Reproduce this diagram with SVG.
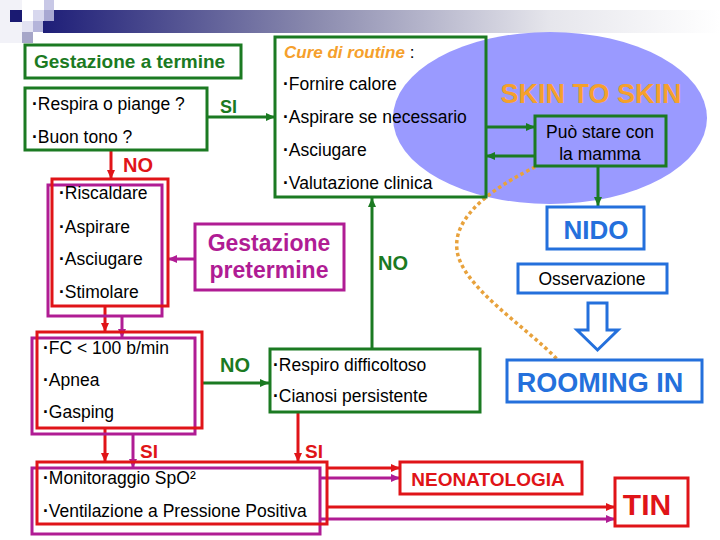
<svg xmlns="http://www.w3.org/2000/svg" width="720" height="540" viewBox="0 0 720 540">
<defs>
<linearGradient id="bar" x1="0" y1="0" x2="1" y2="0">
<stop offset="0" stop-color="#1e1e78"/>
<stop offset="0.4" stop-color="#8a8aae"/>
<stop offset="0.75" stop-color="#e6e6ec"/>
<stop offset="1" stop-color="#ffffff"/>
</linearGradient>
<marker id="ag" markerWidth="9" markerHeight="8" refX="9" refY="4" orient="auto" markerUnits="userSpaceOnUse"><path d="M0,0 L9,4 L0,8 Z" fill="#1b7a22"/></marker>
<marker id="ar" markerWidth="9" markerHeight="8" refX="9" refY="4" orient="auto" markerUnits="userSpaceOnUse"><path d="M0,0 L9,4 L0,8 Z" fill="#e01418"/></marker>
<marker id="ap" markerWidth="9" markerHeight="8" refX="9" refY="4" orient="auto" markerUnits="userSpaceOnUse"><path d="M0,0 L9,4 L0,8 Z" fill="#b01c94"/></marker>
</defs>
<style>
text{font-family:"Liberation Sans",Arial,sans-serif;}
.t{font-size:17.5px;fill:#000;}
.d{font-weight:bold;}
.bg{fill:none;stroke:#1b7a22;stroke-width:3;}
.br{fill:none;stroke:#e01418;stroke-width:3;}
.bp{fill:none;stroke:#b01c94;stroke-width:3;}
.bb{fill:#fff;stroke:#2470dc;stroke-width:3;}
.lg{stroke:#1b7a22;stroke-width:3;fill:none;marker-end:url(#ag);}
.lr{stroke:#e01418;stroke-width:3;fill:none;marker-end:url(#ar);}
.lp{stroke:#b01c94;stroke-width:3;fill:none;marker-end:url(#ap);}
.kg{font-weight:bold;fill:#1b7a22;}
.kr{font-weight:bold;fill:#e01418;}
.kp{font-weight:bold;fill:#b01c94;}
.kb{font-weight:bold;fill:#2470dc;}
</style>
<rect width="720" height="540" fill="#fff"/>
<g id="header">
<rect x="0" y="0" width="22" height="43" fill="#f2f2f8"/>
<rect x="43" y="10" width="677" height="23" fill="url(#bar)"/>
<rect x="44" y="0" width="10" height="10" fill="#c8c8e6"/>
<rect x="33" y="10" width="11" height="11" fill="#d8d8ee"/>
<rect x="44" y="10" width="10" height="11" fill="#a8a8d2"/>
<rect x="10" y="10" width="12" height="12" fill="#1a1a72"/>
<rect x="22" y="21" width="11" height="11" fill="#e2e2f2"/>
<rect x="33" y="21" width="10" height="11" fill="#b4b4da"/>
<rect x="22" y="32" width="11" height="11" fill="#a6a6c8"/>
</g>
<g id="skin">
<ellipse cx="550" cy="118" rx="157" ry="86" fill="#9a9aff"/>
<text x="591" y="103" text-anchor="middle" font-size="27" font-weight="bold" fill="#f5a02c">SKIN TO SKIN</text>
</g>
<g id="connectors">
<line class="lg" x1="207" y1="117" x2="275" y2="117"/>
<line class="lg" x1="486" y1="127" x2="535" y2="127"/>
<line class="lg" x1="535" y1="156" x2="486" y2="156"/>
<line class="lg" x1="598" y1="166" x2="598" y2="206"/>
<line class="lg" x1="372" y1="349" x2="372" y2="198"/>
<line class="lr" x1="111" y1="150" x2="111" y2="179"/>
<line class="lp" x1="195" y1="259" x2="168" y2="259"/>
<line class="lr" x1="105" y1="306" x2="105" y2="332"/>
<line class="lp" x1="122" y1="316" x2="122" y2="338"/>
<line class="lg" x1="202" y1="383" x2="269" y2="383"/>
<line class="lr" x1="105" y1="428" x2="105" y2="462"/>
<line class="lp" x1="133" y1="434" x2="133" y2="468"/>
<line class="lr" x1="298" y1="412" x2="298" y2="462"/>
<line class="lr" x1="327" y1="468" x2="400" y2="468"/>
<line class="lp" x1="320" y1="478" x2="400" y2="478"/>
<line class="lr" x1="327" y1="507" x2="615" y2="507"/>
<line class="lp" x1="320" y1="519" x2="615" y2="519"/>
<path d="M535 167 C505 182,452 212,457 250 C461 286,525 326,558 360" fill="none" stroke="#e8a23c" stroke-width="3.5" stroke-dasharray="3.5 3"/>
<polygon points="588,303 607,303 607,330 618,330 597.5,350 577,330 588,330" fill="#fff" stroke="#2470dc" stroke-width="3"/>
<text x="220" y="113" font-size="18" class="kg">SI</text>
<text x="123" y="172" font-size="20" class="kr">NO</text>
<text x="378" y="270" font-size="20" class="kg">NO</text>
<text x="220" y="372" font-size="20" class="kg">NO</text>
<text x="140" y="458" font-size="19" class="kr">SI</text>
<text x="305" y="458" font-size="19" class="kr">SI</text>
</g>
<g id="termine">
<rect class="bg" x="25" y="45" width="216" height="33"/>
<text x="34" y="68" font-size="19" class="kg">Gestazione a termine</text>
</g>
<g id="respira">
<rect class="bg" x="25" y="88" width="182" height="62"/>
<text class="t" x="32" y="110"><tspan class="d">·</tspan>Respira o piange ?</text>
<text class="t" x="32" y="143"><tspan class="d">·</tspan>Buon tono ?</text>
</g>
<g id="cure">
<rect class="bg" x="275" y="37" width="211" height="160"/>
<text x="284" y="58" font-size="17"><tspan font-weight="bold" font-style="italic" fill="#f5a02c">Cure di routine</tspan><tspan fill="#000"> :</tspan></text>
<text class="t" x="283" y="90"><tspan class="d">·</tspan>Fornire calore</text>
<text class="t" x="283" y="123"><tspan class="d">·</tspan>Aspirare se necessario</text>
<text class="t" x="283" y="156"><tspan class="d">·</tspan>Asciugare</text>
<text class="t" x="283" y="189"><tspan class="d">·</tspan>Valutazione clinica</text>
</g>
<g id="mamma">
<rect class="bg" x="535" y="116" width="131" height="50"/>
<text class="t" x="600" y="138" text-anchor="middle">Può stare con</text>
<text class="t" x="600" y="160" text-anchor="middle">la mamma</text>
</g>
<g id="nido">
<rect class="bb" x="547" y="207" width="97" height="42"/>
<text x="596" y="239" text-anchor="middle" font-size="26" class="kb">NIDO</text>
</g>
<g id="osservazione">
<rect class="bb" x="518" y="264" width="149" height="29"/>
<text class="t" x="592" y="285" text-anchor="middle">Osservazione</text>
</g>
<g id="rooming">
<rect class="bb" x="507" y="360" width="195" height="42"/>
<text x="600" y="392" text-anchor="middle" font-size="27" class="kb">ROOMING IN</text>
</g>
<g id="rianimazione">
<rect class="bp" x="48" y="185" width="114" height="131"/>
<rect class="br" x="52" y="179" width="116" height="127"/>
<text class="t" x="59" y="199"><tspan class="d">·</tspan>Riscaldare</text>
<text class="t" x="59" y="233"><tspan class="d">·</tspan>Aspirare</text>
<text class="t" x="59" y="265"><tspan class="d">·</tspan>Asciugare</text>
<text class="t" x="59" y="298"><tspan class="d">·</tspan>Stimolare</text>
</g>
<g id="pretermine">
<rect class="bp" x="195" y="224" width="149" height="66"/>
<text x="269" y="251" text-anchor="middle" font-size="23" class="kp">Gestazione</text>
<text x="269" y="278" text-anchor="middle" font-size="23" class="kp">pretermine</text>
</g>
<g id="fc">
<rect class="bp" x="32" y="338" width="163" height="96"/>
<rect class="br" x="37" y="332" width="165" height="96"/>
<text class="t" x="43" y="354"><tspan class="d">·</tspan>FC &lt; 100 b/min</text>
<text class="t" x="43" y="386"><tspan class="d">·</tspan>Apnea</text>
<text class="t" x="43" y="418"><tspan class="d">·</tspan>Gasping</text>
</g>
<g id="respiro">
<rect class="bg" x="270" y="349" width="210" height="63"/>
<text class="t" x="273" y="371"><tspan class="d">·</tspan>Respiro difficoltoso</text>
<text class="t" x="273" y="402"><tspan class="d">·</tspan>Cianosi persistente</text>
</g>
<g id="monitoraggio">
<rect class="bp" x="32" y="468" width="288" height="66"/>
<rect class="br" x="37" y="462" width="290" height="62"/>
<text class="t" x="43" y="484"><tspan class="d">·</tspan>Monitoraggio SpO²</text>
<text class="t" x="43" y="517"><tspan class="d">·</tspan>Ventilazione a Pressione Positiva</text>
</g>
<g id="neonatologia">
<rect class="br" x="400" y="462" width="182" height="32"/>
<text x="488" y="486" text-anchor="middle" font-size="19" class="kr">NEONATOLOGIA</text>
</g>
<g id="tin">
<rect class="br" x="615" y="478" width="73" height="48"/>
<text x="647" y="515" text-anchor="middle" font-size="30" class="kr">TIN</text>
</g>
</svg>
